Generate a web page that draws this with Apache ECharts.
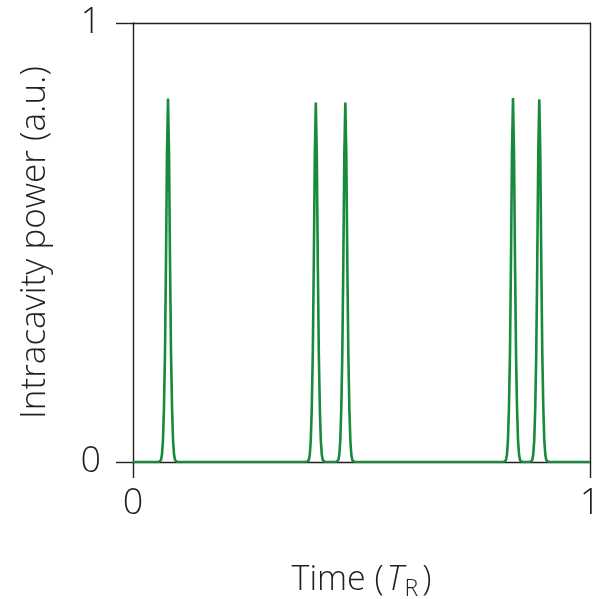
<!DOCTYPE html>
<html>
<head>
<meta charset="utf-8">
<script src="https://cdn.jsdelivr.net/npm/echarts@6/dist/echarts.min.js"></script>
<style>html,body{margin:0;padding:0;background:#fff;overflow:hidden}#c{width:600px;height:599px}</style>
</head>
<body>
<div id="c"></div>
<script>
// Tick labels
const xTicks = ['0', '1'];
const yTicks = ['0', '1'];
// Pulses: [time (T_R), power (a.u.)]
const pulse1 = [[0.0556,0],[0.0612,0.004],[0.0634,0.017],[0.0656,0.050],[0.0678,0.124],[0.0700,0.248],[0.0722,0.455],[0.0744,0.704],[0.0766,0.828],[0.0788,0.704],[0.0810,0.455],[0.0832,0.248],[0.0854,0.124],[0.0876,0.050],[0.0898,0.017],[0.0920,0.004],[0.0976,0]];
const pulse2 = [[0.379,0],[0.3846,0.004],[0.3868,0.016],[0.3890,0.049],[0.3912,0.123],[0.3934,0.246],[0.3956,0.450],[0.3978,0.696],[0.400,0.819],[0.4022,0.696],[0.4044,0.450],[0.4066,0.246],[0.4088,0.123],[0.4110,0.049],[0.4132,0.016],[0.4154,0.004],[0.421,0]];
const pulse3 = [[0.4436,0],[0.4492,0.004],[0.4514,0.016],[0.4536,0.049],[0.4558,0.123],[0.4580,0.246],[0.4602,0.450],[0.4624,0.696],[0.4646,0.819],[0.4668,0.696],[0.4690,0.450],[0.4712,0.246],[0.4734,0.123],[0.4756,0.049],[0.4778,0.016],[0.4800,0.004],[0.4856,0]];
const pulse4 = [[0.8105,0],[0.8161,0.004],[0.8183,0.017],[0.8205,0.050],[0.8227,0.124],[0.8249,0.249],[0.8271,0.456],[0.8293,0.705],[0.8315,0.829],[0.8337,0.705],[0.8359,0.456],[0.8381,0.249],[0.8403,0.124],[0.8425,0.050],[0.8447,0.017],[0.8469,0.004],[0.8525,0]];
const pulse5 = [[0.868,0],[0.8736,0.004],[0.8758,0.017],[0.8780,0.050],[0.8802,0.124],[0.8824,0.248],[0.8846,0.454],[0.8868,0.702],[0.889,0.826],[0.8912,0.702],[0.8934,0.454],[0.8956,0.248],[0.8978,0.124],[0.9000,0.050],[0.9022,0.017],[0.9044,0.004],[0.910,0]];
const baselineStart = [[0, 0]];
const baselineEnd = [[1, 0]];

const data = [].concat(baselineStart, pulse1, pulse2, pulse3, pulse4, pulse5, baselineEnd);

const font = '"Open Sans", "Noto Sans", sans-serif';
const axisColor = '#231f20';
const textColor = '#231f20';

const chart = echarts.init(document.getElementById('c'), null, {renderer: 'canvas'});
chart.setOption({
  animation: false,
  backgroundColor: '#fff',
  grid: {left: 133, right: 10, top: 23, bottom: 137, containLabel: false, outerBoundsMode: 'none'},
  xAxis: [{
    type: 'value', min: 0, max: 1, interval: 1, position: 'bottom',
    axisLine: {show: true, lineStyle: {color: axisColor, width: 1.4}},
    axisTick: {show: true, inside: false, length: 16, lineStyle: {color: axisColor, width: 1.4}},
    splitLine: {show: false},
    axisLabel: {margin: 24, fontSize: 36, fontWeight: 300, fontFamily: font, color: textColor,
      formatter: v => xTicks[Math.round(v)]},
    name: '{n|Time (}{i|T}{s|R}{n|)}',
    nameLocation: 'middle', nameGap: 98,
    nameTextStyle: {
      rich: {
        n: {fontSize: 34, fontWeight: 300, fontFamily: font, color: textColor},
        i: {fontSize: 34, fontWeight: 300, fontFamily: font, fontStyle: 'italic', color: textColor, padding: [0, 1, 0, 3]},
        s: {fontSize: 23, fontWeight: 300, fontFamily: font, color: textColor, verticalAlign: 'bottom', padding: [18, 4, 0, 0]}
      }
    }
  }, {
    type: 'value', min: 0, max: 1, position: 'top',
    axisLine: {show: true, onZero: false, lineStyle: {color: axisColor, width: 1.4}},
    axisTick: {show: false}, axisLabel: {show: false}, splitLine: {show: false}
  }],
  yAxis: [{
    type: 'value', min: 0, max: 1, interval: 1, position: 'left',
    axisLine: {show: true, lineStyle: {color: axisColor, width: 1.4}},
    axisTick: {show: true, inside: false, length: 17, lineStyle: {color: axisColor, width: 1.4}},
    splitLine: {show: false},
    axisLabel: {margin: 32, fontSize: 36, fontWeight: 300, fontFamily: font, color: textColor,
      formatter: v => yTicks[Math.round(v)]},
    name: 'Intracavity power (a.u.)',
    nameLocation: 'middle', nameGap: 80, nameRotate: 90,
    nameTextStyle: {fontSize: 35, fontWeight: 300, fontFamily: font, color: textColor}
  }, {
    type: 'value', min: 0, max: 1, position: 'right',
    axisLine: {show: true, onZero: false, lineStyle: {color: axisColor, width: 1.4}},
    axisTick: {show: false}, axisLabel: {show: false}, splitLine: {show: false}
  }],
  series: [{
    type: 'line', xAxisIndex: 0, yAxisIndex: 0,
    data: data, showSymbol: false, symbol: 'none',
    lineStyle: {color: '#178a3c', width: 2.6},
    z: 5
  }]
});
</script>
</body>
</html>
